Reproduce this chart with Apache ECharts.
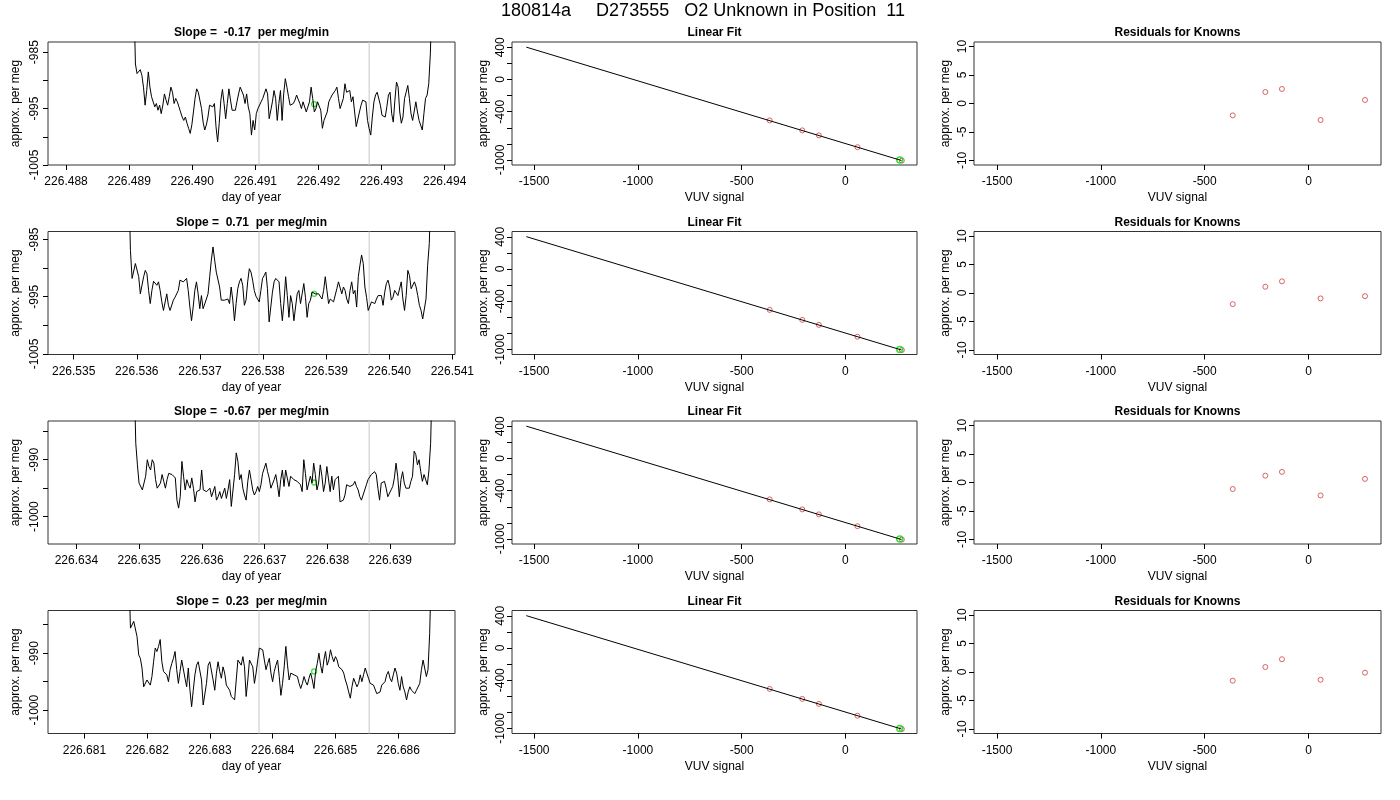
<!DOCTYPE html>
<html>
<head>
<meta charset="utf-8">
<title>180814a D273555 O2 Unknown in Position 11</title>
<script src="https://cdn.jsdelivr.net/npm/echarts@6.0.0/dist/echarts.min.js"></script>
<style>
    html, body { margin: 0; padding: 0; background: #fff; }
    #main { width: 1400px; height: 800px; }
</style>
</head>
<body>
<div id="main"></div>
<script>
var mainTitle = '180814a     D273555   O2 Unknown in Position  11';
var slopeTitles = ['Slope =  -0.17  per meg/min', 'Slope =  0.71  per meg/min',
                   'Slope =  -0.67  per meg/min', 'Slope =  0.23  per meg/min'];

// time of first / last sample of each run (day of year), samples are evenly spaced
var traceStart = [226.489074, 226.535873, 226.634920, 226.681707];
var traceEnd   = [226.493799, 226.540661, 226.639670, 226.686527];

var trace1 = [-975, -987.1, -988.8, -988.5, -988.1, -989.1, -991.2, -994.4, -991.8, -988.5, -991.2, -992.9, -993.2, -994.7, -994.1, -995.3, -994.4, -995.9, -994.4, -992.4, -993.5, -994.4, -992.9, -991.2, -992.1, -994.1, -993.2, -993.8, -994.7, -995.6, -996.5, -997.1, -996.5, -997.6, -998.5, -999.4, -997.9, -995.6, -993.2, -991.5, -992.1, -992.1, -995.0, -997.4, -998.8, -997.9, -996.5, -994.4, -994.1, -994.7, -994.1, -998.2, -1000.9, -997.6, -993.5, -991.6, -994.1, -996.8, -994.1, -991.5, -993.5, -995.3, -995.6, -995.3, -993.8, -992.4, -991.2, -991.5, -992.6, -994.1, -992.4, -994.7, -995.9, -999.7, -997.1, -998.8, -995.9, -995.0, -995.3, -993.8, -993.2, -993.5, -991.5, -992.4, -996.8, -997.1, -993.8, -991.8, -993.2, -997.1, -994.1, -991.8, -997.1,
    -992.4, -989.7, -991.2, -992.9, -994.4, -994.1, -994.1, -993.5, -992.6, -992.6, -994.1, -995.0, -993.8, -993.5, -995.6, -995.9, -993.8, -991.2, -993.2, -995.6, -995.0, -993.8, -993.5, -995.3, -998.5, -997.1, -996.8, -995.6, -993.8, -993.2, -992.6, -992.4, -991.8, -991.2, -993.2, -995.0, -995.3, -993.2, -990.6, -992.1, -992.4, -991.8, -993.8, -992.9, -995.6, -998.2, -998.5, -995.6, -994.4, -993.5, -993.8, -993.8, -997.1, -998.5, -999.7, -996.5, -993.8, -992.6, -992.1, -992.1, -994.4, -996.2, -996.2, -996.5, -994.7, -992.6, -992.1, -995.9, -997.4, -993.5, -990.3, -991.2, -995.6, -997.6, -996.5, -993.2, -992.1, -990.9, -993.2, -995.9, -997.1, -997.1, -993.8, -995.6, -997.1, -997.1, -998.8, -995.9, -993.2, -992.6, -990.6, -985.3, -975];

var trace2 = [-975, -986.9, -991.8, -992.1, -989.2, -989.3, -991.5, -994.5, -994.5, -991.5, -990.4, -991.0, -993.9, -996.2, -993.9, -992.3, -992.4, -993.0, -992.4, -993.9, -995.9, -997.4, -997.4, -994.5, -996.5, -997.4, -997.1, -995.6, -995.1, -995.4, -993.9, -992.1, -992.1, -992.4, -992.7, -991.8, -993.9, -996.8, -999.2, -996.8, -993.9, -992.4, -994.5, -997.1, -994.8, -997.1, -997.4, -995.4, -994.5, -991.5, -988.6, -986.3, -988.6, -990.7, -990.7, -993.3, -995.6, -995.4, -995.6, -995.6, -995.4, -996.2, -993.3, -995.6, -999.2, -996.2, -993.6, -992.4, -991.8, -993.0, -996.5, -995.6, -992.4, -990.1, -990.7, -992.1, -993.9, -994.9, -995.1, -995.9, -993.9, -991.8, -991.3, -990.7, -993.6, -999.4, -996.8, -994.2, -992.4, -991.8, -991.8, -992.4, -996.2, -999.2, -995.9, -991.5, -994.8, -998.6, -994.8, -996.2, -999.2, -996.8, -994.5, -993.9, -996.2, -994.5, -992.7, -995.1, -998.6, -996.2, -995.6, -994.2, -994.2, -994.5, -994.5, -994.5, -994.8, -995.4, -993.9, -991.5, -993.9, -996.2, -995.4, -995.1, -995.9, -996.2, -993.6, -992.4, -992.7, -994.5, -993.3, -993.9, -995.4, -996.2, -993.9, -992.4, -994.5, -993.9, -996.8, -991.5, -989.5, -987.7, -989.2, -993.3, -995.1, -997.4, -997.4, -995.9, -995.6, -996.2, -995.4, -994.8, -995.1, -994.8, -996.5, -994.2, -992.7, -992.1, -993.3, -995.6, -995.1, -993.9, -994.2, -994.8, -994.5, -992.4, -995.4, -997.4, -994.8, -990.4, -991.3, -993.6, -993.9, -992.4, -993.3, -994.8, -996.5, -997.4, -998.9, -999.2, -995.4, -989.5, -985.7, -975];

var trace3 = [-975, -987.1, -990.9, -994.1, -994.4, -995.3, -995.6, -992.9, -990.0, -991.2, -991.8, -990.0, -990.6, -993.5, -995.0, -995.3, -994.1, -992.6, -993.8, -995.0, -993.5, -992.4, -992.1, -992.6, -992.6, -993.2, -997.1, -998.5, -996.5, -990.3, -992.9, -995.3, -993.5, -994.4, -995.0, -993.2, -995.0, -997.4, -995.6, -995.3, -995.3, -991.8, -995.3, -995.0, -995.6, -995.9, -995.0, -996.5, -996.2, -994.7, -997.1, -996.5, -995.6, -996.8, -997.1, -995.0, -996.8, -995.3, -993.5, -998.2, -998.2, -992.6, -988.8, -990.3, -993.5, -992.6, -995.0, -996.2, -997.1, -993.8, -991.8, -993.5, -995.3, -996.2, -995.6, -994.7, -995.6, -994.4, -992.4, -991.5, -990.6, -992.1, -993.2, -995.0, -994.7, -993.5, -992.6, -994.4, -996.5, -993.5, -991.8, -994.7, -991.8, -991.8, -994.7, -992.9, -993.2, -993.5, -993.2, -993.8, -993.5, -994.4, -995.6, -990.0, -992.4, -995.3, -995.3, -992.9, -994.1, -990.6, -992.6, -995.3, -994.1, -990.9, -992.9, -995.6, -994.1, -991.2, -991.5, -995.6, -992.9, -995.3, -993.5, -993.8, -992.9, -997.4, -997.6, -997.1, -996.2, -994.4, -994.7, -994.7, -994.7, -994.4, -993.8, -994.7, -995.3, -996.5, -997.1, -996.8, -995.3, -994.4, -993.5, -993.5, -992.6, -992.4, -992.1, -992.6, -995.0, -997.1, -994.1, -993.8, -993.8, -995.0, -996.5, -996.2, -995.3, -994.7, -993.2, -990.6, -992.9, -996.5, -993.5, -992.1, -994.1, -995.0, -994.7, -995.0, -993.8, -992.9, -988.5, -989.1, -990.9, -990.0, -992.1, -993.8, -992.6, -992.4, -994.4, -991.8, -987.1, -975];

var trace4 = [-975, -985.6, -985.8, -984.4, -984.7, -987.1, -990.3, -990.9, -992.6, -995.9, -996.2, -994.7, -995.0, -995.6, -994.1, -991.5, -989.1, -989.7, -988.8, -987.6, -991.5, -993.2, -993.5, -993.8, -995.0, -992.9, -991.8, -990.9, -989.7, -992.9, -995.3, -993.2, -991.2, -990.9, -994.4, -995.9, -992.6, -996.5, -999.4, -996.5, -993.8, -992.1, -991.5, -991.2, -994.7, -999.1, -998.8, -995.3, -992.1, -991.5, -991.8, -994.7, -996.5, -993.5, -991.5, -993.2, -994.4, -992.4, -993.5, -995.6, -995.9, -996.5, -997.6, -997.9, -998.2, -994.7, -991.2, -991.5, -992.1, -990.6, -992.4, -997.6, -994.7, -991.2, -990.9, -992.4, -995.3, -993.5, -991.2, -989.1, -989.3, -989.4, -991.2, -992.9, -991.8, -990.9, -993.5, -995.0, -993.2, -992.1, -991.2, -994.1, -997.4, -995.3, -992.4, -988.8, -992.1, -994.7, -993.5, -993.2, -993.8, -993.5, -994.1, -995.3, -996.2, -995.3, -994.1, -995.0, -995.6, -994.4, -993.5, -994.7, -996.2, -993.2, -991.8, -990.0, -992.1, -993.5, -991.2, -989.7, -992.1, -991.2, -989.4, -990.6, -991.5, -990.6, -991.2, -992.4, -992.1, -992.9, -993.5, -994.7, -995.6, -996.8, -997.9, -995.9, -994.4, -994.7, -995.9, -995.3, -993.8, -995.0, -993.8, -992.6, -993.5, -994.4, -995.3, -995.3, -995.6, -995.9, -997.1, -997.1, -996.8, -995.6, -995.6, -995.0, -993.8, -993.2, -994.4, -995.0, -993.8, -992.6, -993.5, -995.3, -996.5, -994.1, -995.9, -996.8, -998.2, -996.8, -995.9, -996.5, -996.8, -997.1, -996.5, -996.2, -995.3, -992.9, -991.2, -990.9, -994.1, -992.9, -986.5, -975];

var traces = [trace1, trace2, trace3, trace4];

// averaging window limits (grey lines) and the unknown's mean (green)
var windowLines = [[226.491058, 226.492804], [226.537937, 226.539683],
                   [226.636910, 226.638665], [226.683782, 226.685537]];
var unknownMean = [[226.491931, -994.2], [226.538810, -994.5],
                   [226.637787, -994.0], [226.684660, -993.2]];

// axis ranges of the time panels
var tsXRange = [[226.487714, 226.494164], [226.534593, 226.541042],
                [226.633548, 226.640032], [226.680420, 226.686904]];
var tsYRange = [[-1005.0, -983.2], [-1005.1, -983.6], [-1004.8, -983.2], [-1004.1, -982.5]];
var tsXTicks = [
    [226.488, 226.489, 226.490, 226.491, 226.492, 226.493, 226.494],
    [226.535, 226.536, 226.537, 226.538, 226.539, 226.540, 226.541],
    [226.634, 226.635, 226.636, 226.637, 226.638, 226.639],
    [226.681, 226.682, 226.683, 226.684, 226.685, 226.686]
];
var tsYTicks = [[-1005, -1000, -995, -990, -985], [-1005, -1000, -995, -990, -985],
                [-1000, -995, -990, -985], [-1000, -995, -990, -985]];
var tsYLabels = [[-1005, -995, -985], [-1005, -995, -985], [-1000, -990], [-1000, -990]];

// standards: VUV signal vs assigned value, the fitted line and the unknown
var knownSignal = [-365, -208, -128, 58, 272];
var knownValue = [-508, -632, -694, -841, -1007];
var fitLine = [[-1538, 402], [270, -1006]];
var unknownPoint = [262, -1000];
var residuals = [
    [-2.08, 2.02, 2.55, -2.90, 0.62],
    [-1.96, 1.10, 2.05, -0.95, -0.55],
    [-1.14, 1.20, 1.86, -2.27, 0.63],
    [-1.53, 0.88, 2.24, -1.36, -0.12]
];
var vuvTicks = [-1500, -1000, -500, 0];
var fitYTicks = [-1000, -800, -600, -400, -200, 0, 200, 400];
var fitYLabels = [-1000, -400, 0, 400];
var resYTicks = [-10, -5, 0, 5, 10];

var FONT = '"Liberation Sans", Arial, Helvetica, sans-serif';
var colLeft = [48, 512, 974];
var colWidth = [407, 405, 407];
var rowTop = [42, 231.5, 421, 610.5];
var rowHeight = 123;
var yNameGap = [26, 22, 22];
var yLabelMargin = [7, 5, 5];

var chart = echarts.init(document.getElementById('main'));

var grids = [], xAxes = [], yAxes = [], series = [];
var titles = [{
    text: mainTitle, left: 703, top: 2, textAlign: 'center', padding: 0,
    textStyle: { fontFamily: FONT, fontSize: 18, fontWeight: 'normal', color: '#000' }
}];

function plain(v) { return String(v); }
function day3(v) { return v.toFixed(3); }

function xAxisOf(g, min, max, ticks, fmt, name) {
    return {
        type: 'value', gridIndex: g, min: min, max: max,
        name: name, nameLocation: 'middle', nameGap: 27,
        nameTextStyle: { fontFamily: FONT, fontSize: 12, color: '#000' },
        axisLine: { show: false, onZero: false },
        axisTick: { show: true, length: 5, customValues: ticks, lineStyle: { color: '#000' } },
        axisLabel: { customValues: ticks, formatter: fmt, margin: 11,
                     fontFamily: FONT, fontSize: 12, color: '#000' },
        splitLine: { show: false }
    };
}

function yAxisOf(g, c, min, max, ticks, labels) {
    return {
        type: 'value', gridIndex: g, min: min, max: max,
        name: 'approx. per meg', nameLocation: 'middle', nameGap: yNameGap[c],
        nameTextStyle: { fontFamily: FONT, fontSize: 12, color: '#000' },
        axisLine: { show: false, onZero: false },
        axisTick: { show: true, length: 5, customValues: ticks, lineStyle: { color: '#000' } },
        axisLabel: { customValues: labels, formatter: plain, rotate: 90, margin: yLabelMargin[c],
                     fontFamily: FONT, fontSize: 12, color: '#000' },
        splitLine: { show: false }
    };
}

function panelTitle(text, r, c) {
    titles.push({
        text: text, left: colLeft[c] + colWidth[c] / 2, top: rowTop[r] - 15,
        textAlign: 'center', padding: 0,
        textStyle: { fontFamily: FONT, fontSize: 12, fontWeight: 'bold', color: '#000' }
    });
}

function openCircles(g, data, color, size, width) {
    return {
        type: 'scatter', xAxisIndex: g, yAxisIndex: g, data: data,
        symbol: 'circle', symbolSize: size, silent: true,
        itemStyle: { color: 'rgba(0,0,0,0)', borderColor: color, borderWidth: width }
    };
}

for (var r = 0; r < 4; r++) {
    for (var c = 0; c < 3; c++) {
        grids.push({
            left: colLeft[c], top: rowTop[r], width: colWidth[c], height: rowHeight,
            show: true, borderColor: '#333', borderWidth: 1, backgroundColor: 'rgba(0,0,0,0)'
        });
    }
    var g0 = r * 3, g1 = r * 3 + 1, g2 = r * 3 + 2;

    // time series of the unknown run
    var vals = traces[r];
    var step = (traceEnd[r] - traceStart[r]) / (vals.length - 1);
    var pts = vals.map(function (v, i) { return [traceStart[r] + i * step, v]; });

    panelTitle(slopeTitles[r], r, 0);
    xAxes.push(xAxisOf(g0, tsXRange[r][0], tsXRange[r][1], tsXTicks[r], day3, 'day of year'));
    yAxes.push(yAxisOf(g0, 0, tsYRange[r][0], tsYRange[r][1], tsYTicks[r], tsYLabels[r]));
    windowLines[r].forEach(function (v) {
        series.push({
            type: 'line', xAxisIndex: g0, yAxisIndex: g0,
            data: [[v, tsYRange[r][0]], [v, tsYRange[r][1]]],
            symbol: 'none', silent: true, lineStyle: { color: '#d0d0d0', width: 1.2 }
        });
    });
    series.push({
        type: 'line', xAxisIndex: g0, yAxisIndex: g0, data: pts,
        symbol: 'none', showSymbol: false, clip: true, silent: true,
        lineStyle: { color: '#000', width: 1 }
    });
    series.push(openCircles(g0, [unknownMean[r]], '#00dd00', 5, 1.3));

    // linear fit of the standards
    panelTitle('Linear Fit', r, 1);
    xAxes.push(xAxisOf(g1, -1607, 345, vuvTicks, plain, 'VUV signal'));
    yAxes.push(yAxisOf(g1, 1, -1062, 466, fitYTicks, fitYLabels));
    series.push({
        type: 'line', xAxisIndex: g1, yAxisIndex: g1, data: fitLine,
        symbol: 'none', silent: true, lineStyle: { color: '#000', width: 1 }
    });
    series.push(openCircles(g1, knownSignal.map(function (x, i) { return [x, knownValue[i]]; }),
        '#d04040', 5, 1));
    series.push(openCircles(g1, [unknownPoint], '#00dd00', 6, 1.5));

    // residuals of the standards
    panelTitle('Residuals for Knowns', r, 2);
    xAxes.push(xAxisOf(g2, -1611, 349, vuvTicks, plain, 'VUV signal'));
    yAxes.push(yAxisOf(g2, 2, -10.8, 10.8, resYTicks, resYTicks));
    series.push(openCircles(g2, knownSignal.map(function (x, i) { return [x, residuals[r][i]]; }),
        '#d04040', 5, 1));
}

chart.setOption({
    backgroundColor: '#fff',
    animation: false,
    title: titles,
    grid: grids,
    xAxis: xAxes,
    yAxis: yAxes,
    series: series
});
</script>
</body>
</html>
